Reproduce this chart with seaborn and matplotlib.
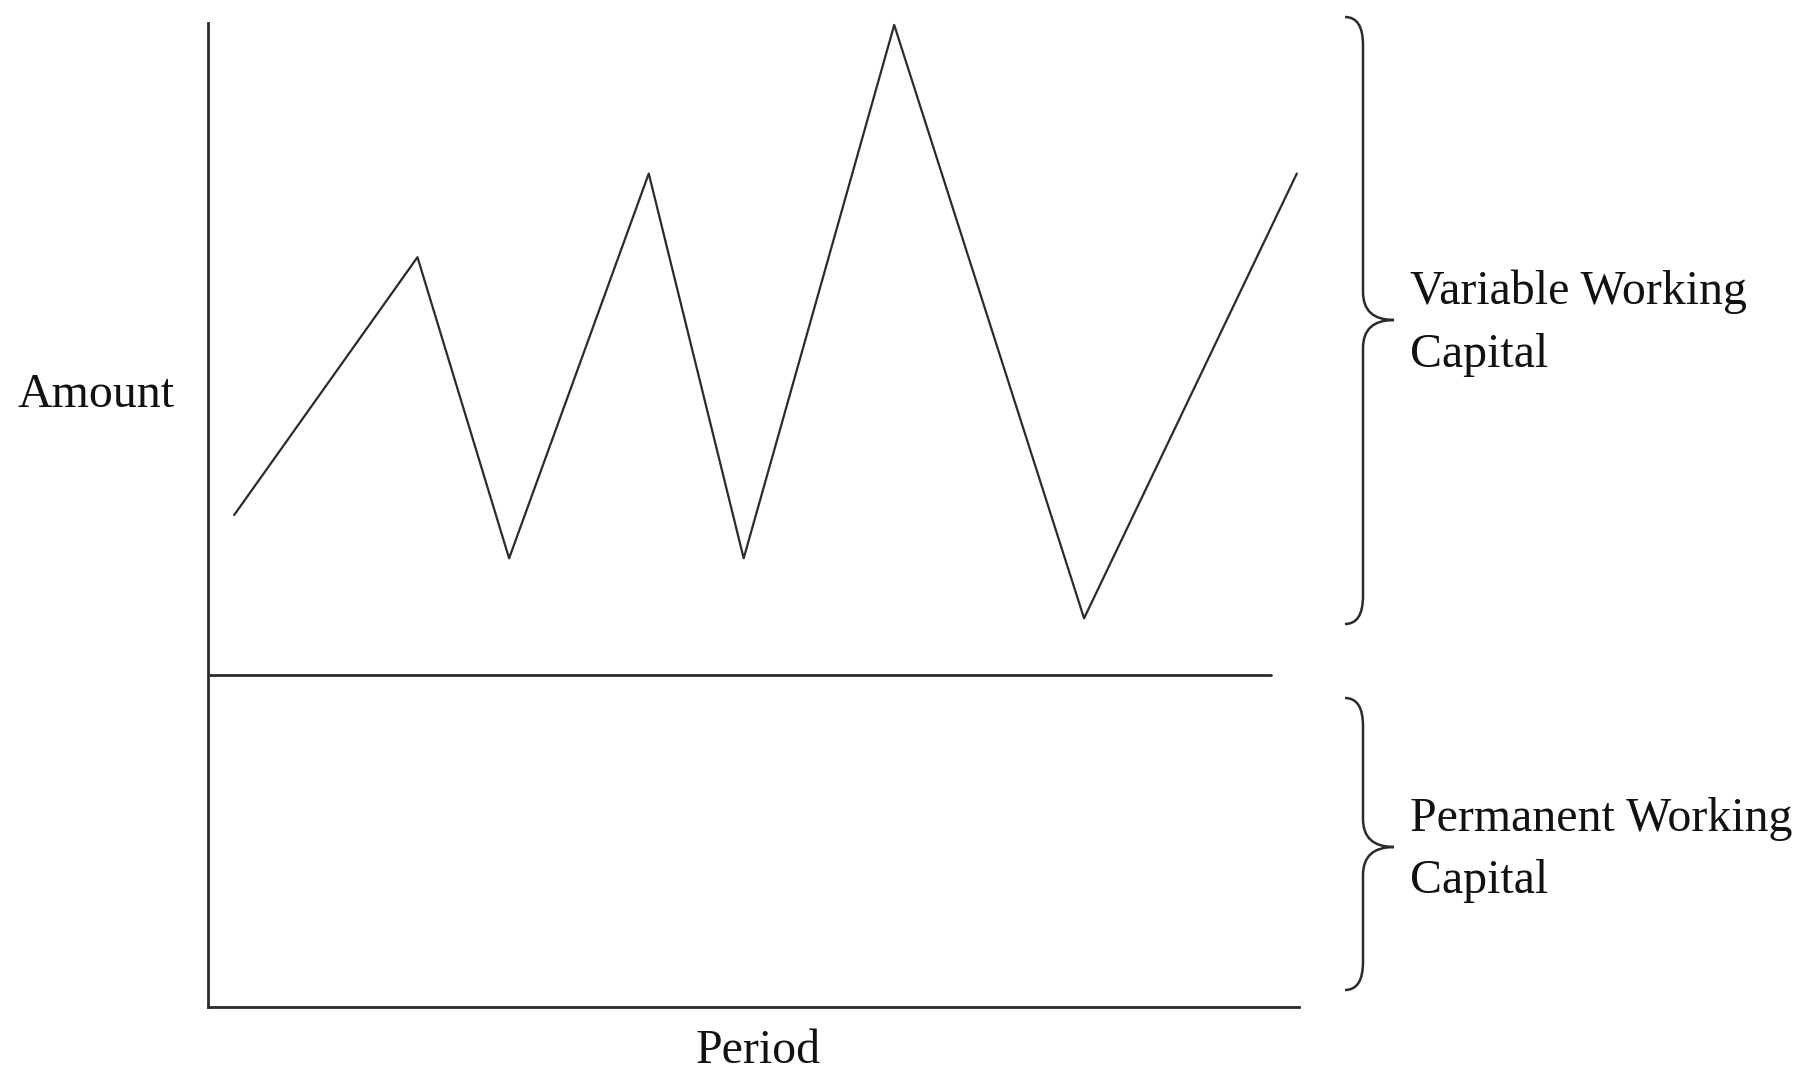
import numpy as np
import pandas as pd
import matplotlib
matplotlib.use("Agg")
import matplotlib.pyplot as plt
from matplotlib.path import Path
from matplotlib.patches import PathPatch
import seaborn as sns

# zigzag of variable working capital (period in % of axis, amount in % of axis)
period = [2.4, 19.2, 27.6, 40.4, 49.1, 62.9, 80.3, 99.8]
amount = [50.0, 76.2, 45.6, 84.7, 45.6, 99.8, 39.5, 84.7]

# permanent working capital level
permanent_level = 33.7
permanent_span = [0.0, 97.4]

labels_right = ["Variable Working\nCapital", "Permanent Working\nCapital"]

sns.set_style("white")
plt.rcParams["font.family"] = ["Liberation Serif", "DejaVu Serif"]

ink = "#2b2b2b"

fig = plt.figure(figsize=(17.95, 10.75), dpi=100)
ax = fig.add_axes([208 / 1795, 68 / 1075, 1091 / 1795, 984 / 1075])

df = pd.DataFrame({"period": period, "amount": amount})
sns.lineplot(data=df, x="period", y="amount", ax=ax, color=ink, lw=1.6, sort=False)
ax.plot(permanent_span, [permanent_level, permanent_level], color=ink, lw=2.0)

ax.set_xlim(0, 100)
ax.set_ylim(0, 100)
ax.set_xticks([])
ax.set_yticks([])
ax.set_xlabel("")
ax.set_ylabel("")
for side in ["top", "right"]:
    ax.spines[side].set_visible(False)
for side in ["left", "bottom"]:
    ax.spines[side].set_color(ink)
    ax.spines[side].set_linewidth(2.0)

# overlay in pixel space for braces and labels
ov = fig.add_axes([0, 0, 1, 1], facecolor="none")
ov.set_xlim(0, 1795)
ov.set_ylim(1075, 0)
ov.axis("off")


def brace(x_end, x_mid, x_tip, top, tip, bottom):
    r = 28
    verts = [
        (x_end, top), (x_mid, top), (x_mid, top + r),
        (x_mid, tip - r),
        (x_mid, tip), (x_tip, tip),
        (x_mid, tip), (x_mid, tip + r),
        (x_mid, bottom - r),
        (x_mid, bottom), (x_end, bottom),
    ]
    codes = [
        Path.MOVETO, Path.CURVE3, Path.CURVE3,
        Path.LINETO,
        Path.CURVE3, Path.CURVE3,
        Path.CURVE3, Path.CURVE3,
        Path.LINETO,
        Path.CURVE3, Path.CURVE3,
    ]
    ov.add_patch(PathPatch(Path(verts, codes), fill=False, ec=ink, lw=1.8))


brace(1345, 1363, 1394, 17, 320, 624)
brace(1345, 1363, 1394, 698, 847, 990)

fs = 34.5
ov.text(1410, 323, labels_right[0], fontsize=fs, va="center", ha="left",
        color="#111111", linespacing=1.55)
ov.text(1410, 850, labels_right[1], fontsize=fs, va="center", ha="left",
        color="#111111", linespacing=1.55)
ov.text(96, 395, "Amount", fontsize=fs, va="center", ha="center", color="#111111")
ov.text(758, 1051, "Period", fontsize=fs, va="center", ha="center", color="#111111")

fig.savefig("out.png", dpi=100, facecolor="white")
